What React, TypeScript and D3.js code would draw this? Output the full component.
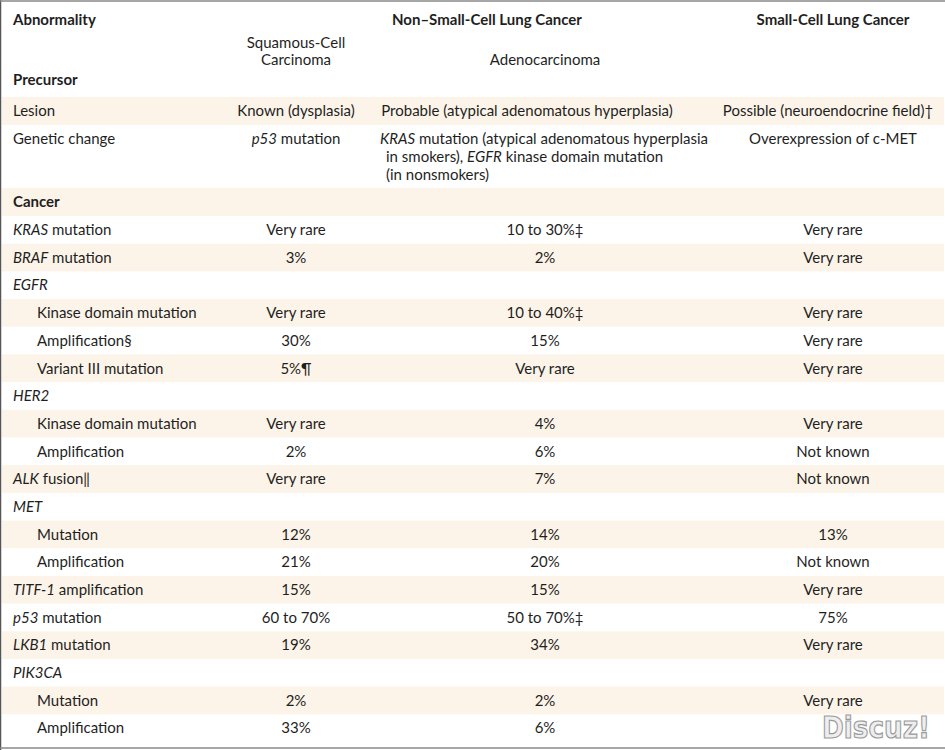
import React from "react";
import * as d3 from "d3";

type Seg = [string, boolean];

// ---- data ----
const precursorLabels: Seg[][] = [[["Lesion", false]], [["Genetic change", false]]];
const precursorSquamous: Seg[][][] = [
  [[["Known (dysplasia)", false]]],
  [[["p53", true], [" mutation", false]]],
];
const precursorAdeno: Seg[][][] = [
  [[["Probable (atypical adenomatous hyperplasia)", false]]],
  [
    [["KRAS", true], [" mutation (atypical adenomatous hyperplasia", false]],
    [["in smokers), ", false], ["EGFR", true], [" kinase domain mutation", false]],
    [["(in nonsmokers)", false]],
  ],
];
const precursorSmall: Seg[][][] = [
  [[["Possible (neuroendocrine field)†", false]]],
  [[["Overexpression of c-MET", false]]],
];

const cancerLabels: Seg[][] = [
  [["KRAS", true], [" mutation", false]],
  [["BRAF", true], [" mutation", false]],
  [["EGFR", true]],
  [["Kinase domain mutation", false]],
  [["Amplification§", false]],
  [["Variant III mutation", false]],
  [["HER2", true]],
  [["Kinase domain mutation", false]],
  [["Amplification", false]],
  [["ALK", true], [" fusion‖", false]],
  [["MET", true]],
  [["Mutation", false]],
  [["Amplification", false]],
  [["TITF-1", true], [" amplification", false]],
  [["p53", true], [" mutation", false]],
  [["LKB1", true], [" mutation", false]],
  [["PIK3CA", true]],
  [["Mutation", false]],
  [["Amplification", false]],
];
const cancerIndent = [false, false, false, true, true, true, false, true, true, false, false, true, true, false, false, false, false, true, true];
const squamous = ["Very rare", "3%", "", "Very rare", "30%", "5%¶", "", "Very rare", "2%", "Very rare", "", "12%", "21%", "15%", "60 to 70%", "19%", "", "2%", "33%"];
const adeno = ["10 to 30%‡", "2%", "", "10 to 40%‡", "15%", "Very rare", "", "4%", "6%", "7%", "", "14%", "20%", "15%", "50 to 70%‡", "34%", "", "2%", "6%"];
const smallCell = ["Very rare", "Very rare", "", "Very rare", "Very rare", "Very rare", "", "Very rare", "Not known", "Not known", "", "13%", "Not known", "Very rare", "75%", "Very rare", "", "Very rare", ""];

const columns = ["label", "squamous", "adeno", "small"];

// ---- layout ----
const W = 945;
const H = 750;
const FONT = "Lato, 'Open Sans', sans-serif";
const FS = 15;
const TEXT = "#1f1f1f";
const BAND = "#fcf4e8";

const xCenter = d3.scaleOrdinal<string, number>().domain(columns).range([13, 296, 545, 833]);
const labelX = 13;
const indentX = 37;

const cancerY = d3
  .scaleBand<number>()
  .domain(d3.range(cancerLabels.length))
  .range([216, 742]);

const precursorTops = [97, 125];
const precursorHeights = [28, 63];
const lineH = 18;

function Segs({ segs, x, y, anchor, bold }: { segs: Seg[]; x: number; y: number; anchor: string; bold?: boolean }) {
  return (
    <text x={x} y={y} dy="0.35em" textAnchor={anchor as any} fontFamily={FONT} fontSize={FS} fill={TEXT} fontWeight={bold ? 700 : 400}>
      {segs.map((s, i) => (
        <tspan key={i} fontStyle={s[1] ? "italic" : "normal"}>
          {s[0]}
        </tspan>
      ))}
    </text>
  );
}

export default function App() {
  const bh = cancerY.bandwidth();
  return (
    <svg width={W} height={H} style={{ position: "absolute", left: 0, top: 0, background: "#fff" }}>
      <rect x={0} y={0} width={W} height={H} fill="#fff" />
      {/* precursor bands */}
      {precursorTops.map((t, i) =>
        i % 2 === 0 ? <rect key={"pb" + i} x={2} y={t} width={W - 3} height={precursorHeights[i]} fill={BAND} /> : null
      )}
      {/* cancer section band */}
      <rect x={2} y={188} width={W - 3} height={28} fill={BAND} />
      {cancerLabels.map((_, i) =>
        i % 2 === 1 ? <rect key={"cb" + i} x={2} y={cancerY(i)!} width={W - 3} height={bh} fill={BAND} /> : null
      )}

      {/* header */}
      <Segs segs={[["Abnormality", false]]} x={labelX} y={20} anchor="start" bold />
      <Segs segs={[["Non–Small-Cell Lung Cancer", false]]} x={487} y={20} anchor="middle" bold />
      <Segs segs={[["Small-Cell Lung Cancer", false]]} x={xCenter("small")} y={20} anchor="middle" bold />
      <Segs segs={[["Squamous-Cell", false]]} x={xCenter("squamous")} y={43} anchor="middle" />
      <Segs segs={[["Carcinoma", false]]} x={xCenter("squamous")} y={60} anchor="middle" />
      <Segs segs={[["Adenocarcinoma", false]]} x={xCenter("adeno")} y={60} anchor="middle" />
      <Segs segs={[["Precursor", false]]} x={labelX} y={80} anchor="start" bold />

      {/* precursor rows */}
      {precursorLabels.map((lab, i) => {
        const y0 = precursorTops[i] + 14;
        return (
          <g key={"pr" + i}>
            <Segs segs={lab} x={labelX} y={y0} anchor="start" />
            {precursorSquamous[i].map((ln, j) => (
              <Segs key={"s" + j} segs={ln} x={xCenter("squamous")} y={y0 + j * lineH} anchor="middle" />
            ))}
            {precursorAdeno[i].map((ln, j) =>
              precursorAdeno[i].length > 1 ? (
                <Segs key={"a" + j} segs={ln} x={j === 0 ? 380 : 386} y={y0 + j * lineH} anchor="start" />
              ) : (
                <Segs key={"a" + j} segs={ln} x={527} y={y0 + j * lineH} anchor="middle" />
              )
            )}
            {precursorSmall[i].map((ln, j) => (
              <Segs key={"m" + j} segs={ln} x={i === 0 ? 828 : xCenter("small")} y={y0 + j * lineH} anchor="middle" />
            ))}
          </g>
        );
      })}

      <Segs segs={[["Cancer", false]]} x={labelX} y={202} anchor="start" bold />

      {/* cancer rows */}
      {cancerLabels.map((lab, i) => {
        const yc = cancerY(i)! + bh / 2;
        return (
          <g key={"cr" + i}>
            <Segs segs={lab} x={cancerIndent[i] ? indentX : labelX} y={yc} anchor="start" />
            <Segs segs={[[squamous[i], false]]} x={xCenter("squamous")} y={yc} anchor="middle" />
            <Segs segs={[[adeno[i], false]]} x={xCenter("adeno")} y={yc} anchor="middle" />
            <Segs segs={[[smallCell[i], false]]} x={xCenter("small")} y={yc} anchor="middle" />
          </g>
        );
      })}

      {/* watermark */}
      <text x={822} y={738} textLength={108} lengthAdjust="spacingAndGlyphs" fontFamily="'DejaVu Sans', sans-serif" fontWeight={700} fontSize={30} fill="#eeeeee" stroke="#9a9a9a" strokeWidth={1.2}>
        Discuz!
      </text>

      {/* frame */}
      <line x1={0.5} y1={0} x2={0.5} y2={H} stroke="#555" strokeWidth={1.5} />
      <line x1={0} y1={1} x2={W} y2={1} stroke="#888" strokeWidth={1.5} />
      <line x1={0} y1={748} x2={W} y2={748} stroke="#888" strokeWidth={1.5} />
    </svg>
  );
}
